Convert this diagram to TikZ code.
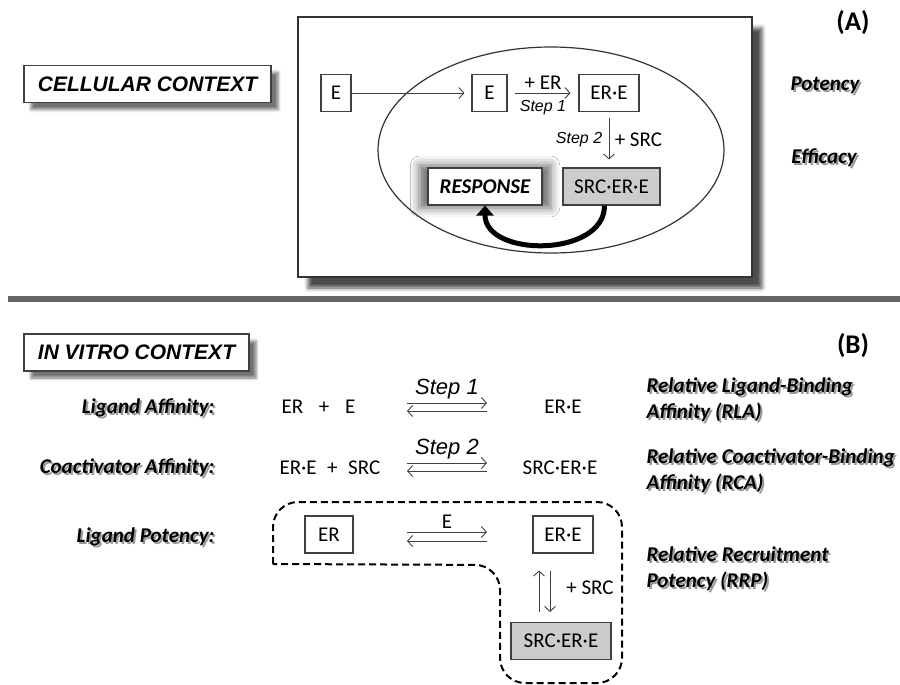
\documentclass[tikz,border=0pt]{standalone}
\usepackage{fontspec}
\setmainfont{Carlito}
\newfontfamily\arialf{Liberation Sans}
\usetikzlibrary{arrows.meta,shadows.blur,positioning}

\tikzset{
  box/.style={draw=black!75, line width=1.1pt, fill=white, minimum height=37pt,
    inner sep=3pt, font=\fontsize{21}{24}\selectfont},
  graybox/.style={box, fill=black!20},
  ctxbox/.style={draw=black!75, line width=1.1pt, fill=white, minimum height=37pt,
    font=\arialf\bfseries\itshape\fontsize{21}{24}\selectfont,
    blur shadow={shadow xshift=7pt, shadow yshift=-7pt, shadow opacity=55, shadow blur radius=3pt}},
  chem/.style={font=\fontsize{21}{24}\selectfont},
  steplbl/.style={font=\arialf\itshape\fontsize{16}{19}\selectfont},
  bigstep/.style={font=\arialf\itshape\fontsize{22}{25}\selectfont},
  lbl/.style={font=\bfseries\itshape\fontsize{21}{26}\selectfont, align=left},
  panel/.style={font=\bfseries\fontsize{27}{30}\selectfont},
  thinarrow/.style={->, draw=black!75, line width=0.9pt},
  region/.style={line width=2pt, dash pattern=on 7pt off 4pt},
}

% label with a soft grey copy behind it
\newcommand{\shadowlabel}[4]{%
  \node[lbl, anchor=#2, text=black!40, xshift=2pt, yshift=-2pt] at (#3) {#4};
  \node[lbl, anchor=#2] (#1) at (#3) {#4};
}

\begin{document}
\begin{tikzpicture}[x=1pt, y=-1pt, >={Straight Barb[length=5pt,width=11pt]}]

\useasboundingbox (0,0) rectangle (900,685);

%% (A) cellular context
\node[ctxbox, minimum width=247pt] (ctxA) at (147.5,84) {CELLULAR CONTEXT};
\node[draw=black!80, line width=1.5pt, fill=white, minimum width=454pt, minimum height=260pt,
  blur shadow={shadow xshift=10pt, shadow yshift=-11pt, shadow opacity=70, shadow blur radius=4pt}]
  (frameA) at (525,147) {};
\node[panel] (labA) at (853,23) {(A)};

\draw[line width=1.2pt, black!80] (551,150) ellipse [x radius=173pt, y radius=103pt];

\node[box, minimum width=30pt] (eOut) at (336,93) {E};
\node[box, minimum width=35pt] (eIn) at (489.5,93) {E};
\node[box, minimum width=60pt] (ereA) at (609,93) {ER·E};
\node[graybox, minimum width=97pt] (srcA) at (611.5,186.5) {SRC·ER·E};
\node[box, minimum width=114pt, font=\bfseries\itshape\fontsize{21}{24}\selectfont,
  blur shadow={shadow xshift=0pt, shadow yshift=0pt, shadow scale=1.15, shadow opacity=60, shadow blur radius=8pt}]
  (resp) at (485,186.5) {RESPONSE};

\draw[thinarrow, shorten >=7pt] (eOut) -- (eIn);
\draw[thinarrow, shorten <=7pt, shorten >=8pt] (eIn) -- (ereA)
  node[midway, above=0pt, chem] {+ ER}
  node[midway, below=4pt, steplbl] {Step 1};
\draw[thinarrow, shorten <=6pt, shorten >=8pt] (ereA.south) -- (ereA.south |- srcA.north)
  node[midway, left=3pt, steplbl] {Step 2}
  node[midway, right=2pt, chem] {+ SRC};
\draw[line width=5pt, -{Triangle[length=10pt,width=17pt]}]
  ([xshift=-7pt]srcA.south) .. controls +(0,52) and +(0,52) .. (resp.south);

\shadowlabel{potA}{center}{825,85}{Potency}
\shadowlabel{effA}{center}{824,158}{Efficacy}

\draw[line width=6pt, black!60] (8,299) -- (900,299);

%% (B) in vitro context
\node[ctxbox, minimum width=225pt] (ctxB) at (136.5,352.5) {IN VITRO CONTEXT};
\node[panel] (labB) at (853,346) {(B)};

\shadowlabel{rowLA}{east}{218,408}{Ligand Affinity:}
\shadowlabel{rowCA}{east}{218,468}{Coactivator Affinity:}
\shadowlabel{rowLP}{east}{218,537}{Ligand Potency:}

\shadowlabel{rla}{west}{643,400}{Relative Ligand-Binding\\Affinity (RLA)}
\shadowlabel{rca}{west}{643,470.5}{Relative Coactivator-Binding\\Affinity (RCA)}
\shadowlabel{rrp}{west}{643,568.5}{Relative Recruitment\\Potency (RRP)}

% step 1
\node[chem] (erPlusE) at (318.5,407) {ER\hspace{0.75em}+\hspace{0.75em}E};
\node[chem] (ereB1) at (563,407) {ER·E};
\coordinate (s1a) at (407,407);
\coordinate (s1b) at (487,407);
\draw[thinarrow] ([yshift=4pt]s1a) -- ([yshift=4pt]s1b) node[midway, above=0pt, bigstep] {Step 1};
\draw[thinarrow] ([yshift=-4pt]s1b) -- ([yshift=-4pt]s1a);

% step 2
\node[chem, anchor=west] (erePlusSrc) at (276,468) {ER·E\hspace{0.5em}+\hspace{0.5em}SRC};
\node[chem] (srcB2) at (560,468) {SRC·ER·E};
\coordinate (s2a) at (407,467);
\coordinate (s2b) at (487,467);
\draw[thinarrow] ([yshift=4pt]s2a) -- ([yshift=4pt]s2b) node[midway, above=0pt, bigstep] {Step 2};
\draw[thinarrow] ([yshift=-4pt]s2b) -- ([yshift=-4pt]s2a);

% recruitment potency
\node[box, minimum width=48pt] (erB) at (329,534.5) {ER};
\node[box, minimum width=60pt] (ereB) at (563,534.5) {ER·E};
\node[graybox, minimum width=100pt] (srcB) at (561,641) {SRC·ER·E};
\coordinate (s3a) at (407,536.5);
\coordinate (s3b) at (487,536.5);
\draw[thinarrow] ([yshift=4.5pt]s3a) -- ([yshift=4.5pt]s3b) node[midway, above=0pt, chem] {E};
\draw[thinarrow] ([yshift=-4.5pt]s3b) -- ([yshift=-4.5pt]s3a);
\draw[thinarrow] ([xshift=-22pt, yshift=10pt]srcB.north) -- ([xshift=-24pt, yshift=-17pt]ereB.south);
\draw[thinarrow] ([xshift=-13pt, yshift=-17pt]ereB.south) -- ([xshift=-11pt, yshift=10pt]srcB.north);
\node[chem] (plusSrc) at (590,588) {+ SRC};

\draw[region] (273,564) [rounded corners=25pt] -- (273,502) -- (622,502) -- (622,683)
  -- (500,683) -- (500,565) [sharp corners] -- cycle;

\end{tikzpicture}
\end{document}
